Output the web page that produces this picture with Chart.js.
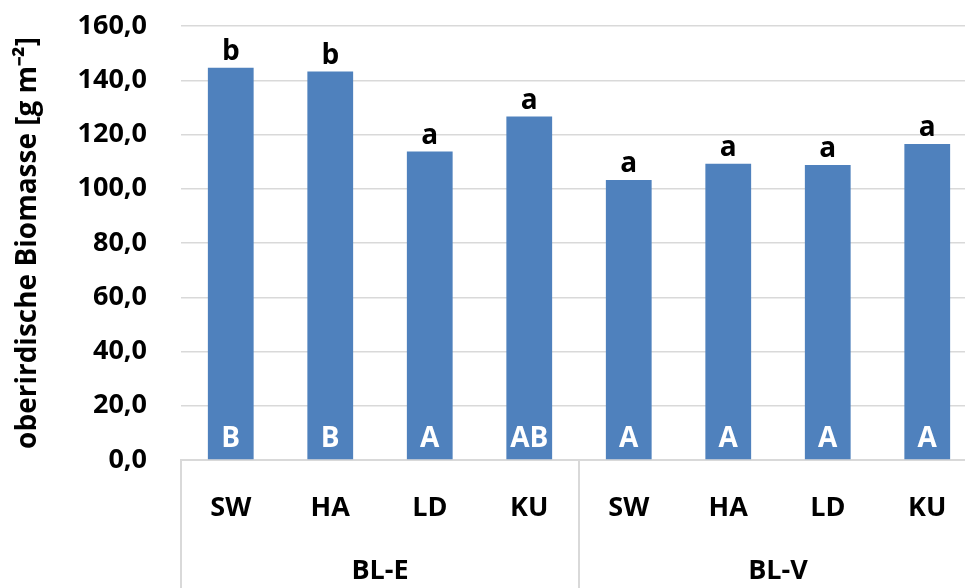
<!DOCTYPE html>
<html>
<head>
<meta charset="utf-8">
<script src="https://cdn.jsdelivr.net/npm/chart.js@4"></script>
<style>
    html, body { margin: 0; padding: 0; background: #fff; overflow: hidden; }
    #wrap { width: 990px; height: 588px; }
</style>
</head>
<body>
<div id="wrap"><canvas id="canvas1" width="990" height="588"></canvas></div>
<script>
let categories = ['SW', 'HA', 'LD', 'KU', 'SW', 'HA', 'LD', 'KU'];
let groups = ['BL-E', 'BL-V'];
let groupSizes = [4, 4];
let biomass = [144.6, 143.2, 113.7, 126.6, 103.2, 109.2, 108.8, 116.5];
let topLetters = ['b', 'b', 'a', 'a', 'a', 'a', 'a', 'a'];
let baseLetters = ['B', 'B', 'A', 'AB', 'A', 'A', 'A', 'A'];
let yMin = 0;
let yMax = 160;
let yStep = 20;

let fontFamily = "'Open Sans', sans-serif";
let gridColor = '#d9d9d9';

document.addEventListener('DOMContentLoaded', function () {
    let canvas1 = document.getElementById("canvas1");

    // letters above / inside bars + group separators under the axis
    let letterPlugin = {
        id: 'letters',
        afterDatasetsDraw: function (chart) {
            let ctx = chart.ctx;
            let meta = chart.getDatasetMeta(0);
            let base = chart.scales.y.getPixelForValue(0);
            ctx.save();
            ctx.font = 'bold 28px ' + fontFamily;
            ctx.textAlign = 'center';
            ctx.textBaseline = 'alphabetic';
            meta.data.forEach(function (bar, i) {
                ctx.fillStyle = '#000';
                ctx.fillText(topLetters[i], bar.x, bar.y - 8);
                ctx.fillStyle = '#fff';
                ctx.fillText(baseLetters[i], bar.x, base - 13);
            });
            ctx.restore();
        },
        afterDraw: function (chart) {
            let ctx = chart.ctx;
            let x = chart.scales.x;
            let bounds = [x.left];
            let k = 0;
            groupSizes.forEach(function (n, g) {
                k += n;
                if (g < groupSizes.length - 1) {
                    bounds.push((x.getPixelForValue(k - 1) + x.getPixelForValue(k)) / 2);
                }
            });
            bounds.push(x.right);
            ctx.save();
            ctx.strokeStyle = gridColor;
            ctx.lineWidth = 2;
            bounds.forEach(function (px) {
                ctx.beginPath();
                ctx.moveTo(px, chart.chartArea.bottom);
                ctx.lineTo(px, chart.height);
                ctx.stroke();
            });
            ctx.restore();
        }
    };

    let chart1 = new Chart(canvas1, {
        type: 'bar',
        data: {
            labels: categories,
            datasets: [{
                label: 'oberirdische Biomasse',
                data: biomass,
                backgroundColor: '#4f81bd',
                borderWidth: 0,
                categoryPercentage: 1,
                barPercentage: 0.46
            }]
        },
        options: {
            responsive: false,
            animation: false,
            devicePixelRatio: 1,
            layout: {
                padding: { left: 0, right: 13, top: 26, bottom: 0 }
            },
            plugins: {
                legend: { display: false },
                tooltip: { enabled: false }
            },
            scales: {
                y: {
                    min: yMin,
                    max: yMax,
                    afterFit: function (scale) {
                        scale.width = 181;
                        scale.paddingTop = 0;
                        scale.paddingBottom = 0;
                    },
                    ticks: {
                        stepSize: yStep,
                        padding: 34,
                        color: '#000',
                        font: { family: fontFamily, size: 27, weight: 'bold' },
                        callback: function (v) { return v.toFixed(1).replace('.', ','); }
                    },
                    grid: { color: gridColor, lineWidth: 1.5, drawTicks: false },
                    border: { display: false },
                    title: {
                        display: true,
                        text: 'oberirdische Biomasse [g m⁻²]',
                        color: '#000',
                        font: { family: fontFamily, size: 28, weight: 'bold' },
                        padding: { top: 11, bottom: 0 }
                    }
                },
                x: {
                    weight: 0,
                    afterFit: function (scale) {
                        scale.height = 70;
                        scale.paddingLeft = 0;
                        scale.paddingRight = 0;
                    },
                    grid: { display: false, drawTicks: false },
                    border: { display: true, color: gridColor, width: 2 },
                    ticks: {
                        padding: 32,
                        color: '#000',
                        font: { family: fontFamily, size: 27, weight: 'bold' }
                    }
                },
                group: {
                    type: 'category',
                    position: 'bottom',
                    weight: 1,
                    labels: groups,
                    offset: true,
                    afterFit: function (scale) {
                        scale.height = 58;
                        scale.paddingLeft = 0;
                        scale.paddingRight = 0;
                    },
                    grid: { display: false, drawTicks: false },
                    border: { display: false },
                    ticks: {
                        padding: 25,
                        color: '#000',
                        font: { family: fontFamily, size: 27, weight: 'bold' }
                    }
                }
            }
        },
        plugins: [letterPlugin]
    });
});
</script>
</body>
</html>
